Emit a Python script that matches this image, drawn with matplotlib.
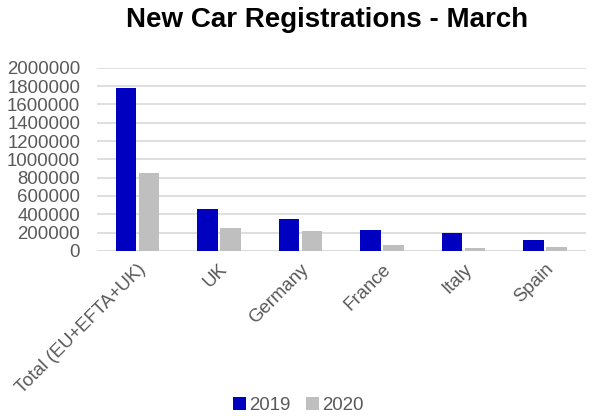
import numpy as np
import matplotlib.pyplot as plt

plt.rcParams['font.family'] = ['Liberation Sans', 'DejaVu Sans']

countries = ['Total (EU+EFTA+UK)', 'UK', 'Germany', 'France', 'Italy', 'Spain']
reg_2019 = [1780000, 458000, 345500, 225800, 194300, 123600]
reg_2020 = [853000, 254700, 215100, 62700, 28300, 37600]

fig = plt.figure(figsize=(5.94, 4.16), dpi=100)
ax = fig.add_axes([0.163, 0.397, 0.823, 0.44])

x = np.arange(len(countries))
w = 0.25
ax.bar(x - 0.14, reg_2019, w, color='#0000c0', label='2019', zorder=3)
ax.bar(x + 0.14, reg_2020, w, color='#bfbfbf', label='2020', zorder=3)

ax.set_xlim(-0.5, len(countries) - 0.5)
ax.set_ylim(0, 2000000)
ax.set_yticks(np.arange(0, 2000001, 200000))
ax.set_yticklabels([str(v) for v in range(0, 2000001, 200000)])
ax.yaxis.grid(True, color='#d9d9d9', linewidth=1.2, zorder=0)
for s in ax.spines.values():
    s.set_visible(False)
ax.axhline(0, color='#d9d9d9', linewidth=1.2, zorder=2)
ax.tick_params(length=0, labelsize=13.4, colors='#595959')
ax.tick_params(axis='y', pad=12)
ax.tick_params(axis='x', pad=7)
ax.set_xticks(x)
ax.set_xticklabels(countries, rotation=45, ha='right', rotation_mode='anchor')

fig.text(0.55, 0.952, 'New Car Registrations - March', fontsize=20, fontweight='bold',
         ha='center', va='center')
fig.legend(loc='lower center', bbox_to_anchor=(0.502, -0.035), ncol=2, frameon=False,
           fontsize=13.4, handlelength=0.7, handleheight=0.7, handletextpad=0.2,
           columnspacing=0.8, labelcolor='#595959')

fig.savefig('out.png', dpi=100)
